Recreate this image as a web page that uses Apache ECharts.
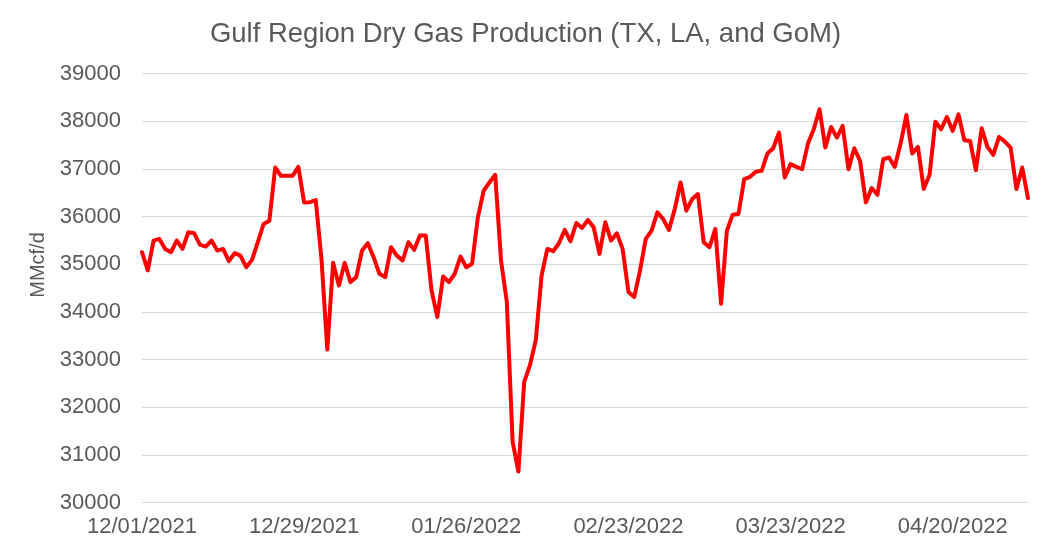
<!DOCTYPE html>
<html>
<head>
<meta charset="utf-8">
<script src="https://cdn.jsdelivr.net/npm/echarts@6/dist/echarts.min.js"></script>
<style>
html,body{margin:0;padding:0;background:#fff;}
#chart{width:1051px;height:556px;}
</style>
</head>
<body>
<div id="chart"></div>
<script>
const titleText = "Gulf Region Dry Gas Production (TX, LA, and GoM)";
const yAxisName = "MMcf/d";
const startDate = "2021-12-01";
const values = [
  35250,34870,35495,35530,35320,35250,35495,35320,35670,35650,
  35410,35370,35495,35285,35320,35063,35230,35180,34937,35090,
  35460,35843,35913,37028,36854,36854,36854,37042,36296,36300,
  36345,35100,33209,35028,34554,35028,34624,34728,35286,35439,
  35146,34798,34728,35355,35181,35077,35460,35300,35600,35600,
  34449,33892,34742,34624,34798,35160,34937,35007,35983,36540,
  36714,36875,35077,34205,31278,30650,32532,32881,33404,34763,
  35320,35272,35439,35718,35481,35864,35760,35927,35774,35216,
  35878,35495,35648,35320,34414,34310,34868,35530,35704,36087,
  35948,35718,36157,36714,36122,36366,36471,35460,35355,35739,
  34170,35704,36038,36052,36784,36833,36938,36958,37321,37433,
  37760,36819,37098,37042,36993,37530,37830,38248,37446,37878,
  37655,37900,36993,37432,37167,36296,36596,36456,37202,37237,
  37042,37530,38129,37321,37460,36575,36875,37990,37830,38088,
  37795,38143,37600,37586,36973,37851,37460,37293,37669,37572,
  37446,36575,37028,36387
];
const yTicks = {min: 30000, max: 39000, interval: 1000};

function buildDates(start, n) {
  const out = [];
  const d0 = new Date(start + "T00:00:00Z");
  for (let i = 0; i < n; i++) {
    const d = new Date(d0.getTime() + i * 86400000);
    const mm = String(d.getUTCMonth() + 1).padStart(2, "0");
    const dd = String(d.getUTCDate()).padStart(2, "0");
    out.push(mm + "/" + dd + "/" + d.getUTCFullYear());
  }
  return out;
}
const dates = buildDates(startDate, values.length);

const font = "'Liberation Sans', Arial, sans-serif";
const chart = echarts.init(document.getElementById("chart"), null, {renderer: "canvas"});
chart.setOption({
  animation: false,
  backgroundColor: "#ffffff",
  title: {
    text: titleText,
    left: "center",
    top: 15,
    textStyle: {fontFamily: font, fontSize: 27.5, fontWeight: "normal", color: "#595959"}
  },
  graphic: [{
    type: "text",
    x: 38,
    y: 265,
    rotation: Math.PI / 2,
    style: {
      text: yAxisName,
      fontFamily: font,
      fontSize: 20,
      fill: "#595959",
      align: "center",
      verticalAlign: "middle"
    }
  }],
  grid: {left: 142, right: 23, top: 73.5, bottom: 53.5, containLabel: false},
  xAxis: {
    type: "category",
    data: dates,
    boundaryGap: false,
    axisLine: {show: true, lineStyle: {color: "#d9d9d9", width: 1}},
    axisTick: {show: false},
    axisLabel: {interval: 27, margin: 13, fontFamily: font, fontSize: 22, color: "#595959"},
    splitLine: {show: false}
  },
  yAxis: {
    type: "value",
    min: yTicks.min,
    max: yTicks.max,
    interval: yTicks.interval,
    axisLine: {show: false},
    axisTick: {show: false},
    axisLabel: {margin: 21, fontFamily: font, fontSize: 22, color: "#595959", formatter: function (v) { return String(v); }},
    splitLine: {lineStyle: {color: "#d9d9d9", width: 1}}
  },
  series: [{
    type: "line",
    data: values,
    showSymbol: false,
    symbol: "none",
    lineStyle: {color: "#ff0000", width: 4, join: "round", cap: "round"},
    itemStyle: {color: "#ff0000"}
  }]
});
</script>
</body>
</html>
